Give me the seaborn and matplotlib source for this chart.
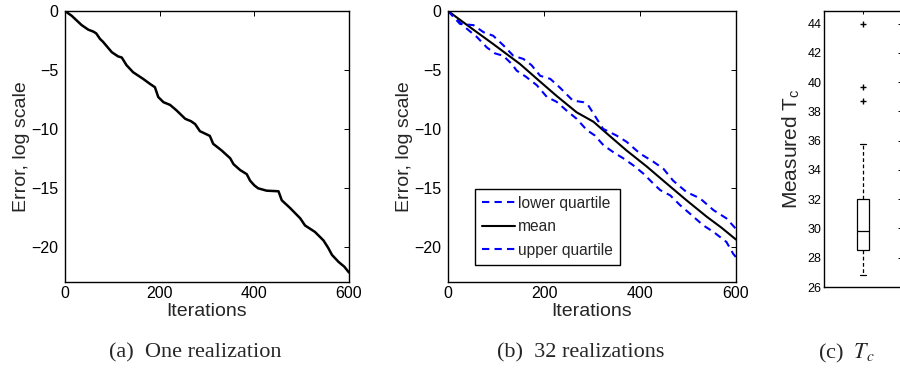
import matplotlib
matplotlib.use("Agg")
import matplotlib.pyplot as plt
import seaborn as sns

# ---------------- data ----------------
# (a) one realization
a_iter = [0, 14, 35, 49, 60, 66, 74, 80, 99, 112, 120, 130, 144, 165, 180, 190, 197,
          208, 222, 236, 254, 266, 275, 285, 306, 313, 331, 349, 356, 370, 384, 391,
          400, 408, 426, 451, 458, 475, 497, 507, 528, 546, 556, 564, 578, 590, 600]
a_err = [0, -0.4, -1.19, -1.58, -1.75, -1.9, -2.37, -2.6, -3.5, -3.85, -3.95, -4.6,
         -5.2, -5.76, -6.2, -6.47, -7.3, -7.74, -7.97, -8.45, -9.15, -9.35, -9.6,
         -10.2, -10.6, -11.27, -11.84, -12.5, -13.0, -13.5, -13.85, -14.4, -14.8,
         -15.05, -15.25, -15.3, -16.07, -16.7, -17.6, -18.2, -18.75, -19.47, -20.1,
         -20.7, -21.3, -21.7, -22.2]

# (b) 32 realizations
mean_iter = [0, 50, 94, 150, 192, 226, 268, 303, 331, 372, 414, 456, 497, 539, 570, 600]
mean_err = [0, -1.5, -2.8, -4.5, -6.0, -7.2, -8.6, -9.4, -10.4, -11.84, -13.2, -14.66,
            -16.07, -17.46, -18.4, -19.4]

lowq_iter = [0, 39, 60, 81, 98, 115, 133, 143, 163, 185, 206, 226, 247, 268, 289, 306,
             324, 345, 365, 386, 407, 428, 442, 463, 484, 504, 532, 553, 580, 594, 600]
lowq_err = [0, -1.5, -2.2, -3.1, -3.6, -3.8, -4.5, -5.06, -5.6, -6.3, -7.3, -7.7, -8.45,
            -9.15, -10.1, -10.57, -11.4, -12.0, -12.5, -13.1, -13.8, -14.66, -15.2,
            -15.65, -16.5, -17.2, -18.2, -18.75, -19.6, -20.6, -20.9]

upq_iter = [0, 25, 53, 74, 94, 115, 136, 157, 174, 192, 213, 233, 260, 282, 292, 303,
            323, 351, 372, 400, 428, 449, 469, 497, 525, 553, 580, 600]
upq_err = [0, -1.1, -1.2, -1.8, -2.1, -2.9, -3.8, -4.07, -4.6, -5.5, -5.76, -6.5, -7.6,
           -7.74, -8.0, -8.7, -10.0, -10.57, -11.1, -12.1, -12.8, -13.4, -14.4, -15.37,
           -15.9, -16.9, -17.6, -18.5]

# (c) measured Tc (sample consistent with the box plot statistics)
tc_values = [26.8, 27.4, 27.9, 28.2, 28.5, 28.9, 29.3, 29.6, 29.8, 30.4, 31.0, 31.6,
             32.0, 35.8, 38.7, 39.7, 44.0]

captions = ["(a)  One realization", "(b)  32 realizations", r"(c)  $T_c$"]

# ---------------- style ----------------
sns.set_style("white")
plt.rcParams["font.family"] = ["Liberation Sans", "DejaVu Sans"]
plt.rcParams["mathtext.fontset"] = "stix"
plt.rcParams["axes.linewidth"] = 1.0
plt.rcParams["axes.edgecolor"] = "black"

fig = plt.figure(figsize=(9, 3.69), dpi=100)

def style_axes(ax, tick_fs=11.5, pad=5):
    ax.tick_params(direction="in", top=True, right=True, length=3.5, width=0.7,
                   labelsize=tick_fs, colors="black", pad=pad)
    ax.tick_params(axis="x", pad=3)
    for s in ax.spines.values():
        s.set_visible(True)
        s.set_color("black")
        s.set_linewidth(1.0)

# ---- panel (a) ----
ax1 = fig.add_axes([0.0722, 0.2358, 0.3156, 0.7344])
sns.lineplot(x=a_iter, y=a_err, ax=ax1, color="black", linewidth=1.8)
ax1.set_xlim(0, 600)
ax1.set_ylim(-23, 0)
ax1.set_xticks([0, 200, 400, 600])
ax1.set_yticks([0, -5, -10, -15, -20])
style_axes(ax1)
ax1.set_xlabel("Iterations", fontsize=14, labelpad=1)
ax1.set_ylabel("Error, log scale", fontsize=14, labelpad=1)

# ---- panel (b) ----
ax2 = fig.add_axes([0.4978, 0.2358, 0.32, 0.7344])
sns.lineplot(x=lowq_iter, y=lowq_err, ax=ax2, color="blue", linewidth=1.5,
             label="lower quartile")
ax2.lines[-1].set_dashes((3.5, 2.5))
sns.lineplot(x=mean_iter, y=mean_err, ax=ax2, color="black", linewidth=1.5,
             label="mean")
sns.lineplot(x=upq_iter, y=upq_err, ax=ax2, color="blue", linewidth=1.5,
             label="upper quartile")
ax2.lines[-1].set_dashes((3.5, 2.5))
ax2.set_xlim(0, 600)
ax2.set_ylim(-23, 0)
ax2.set_xticks([0, 200, 400, 600])
ax2.set_yticks([0, -5, -10, -15, -20])
style_axes(ax2)
ax2.set_xlabel("Iterations", fontsize=14, labelpad=1)
ax2.set_ylabel("Error, log scale", fontsize=14, labelpad=1)
leg = ax2.legend(loc="lower left", bbox_to_anchor=(0.094, 0.063), fontsize=11.2,
                 frameon=True, fancybox=False, edgecolor="black", framealpha=1,
                 handlelength=2.1, handletextpad=0.2, borderpad=0.45,
                 labelspacing=0.55, borderaxespad=0)
leg.get_frame().set_linewidth(1.0)

# ---- panel (c) ----
ax3 = fig.add_axes([0.9156, 0.2222, 0.0856, 0.748])
sns.boxplot(y=tc_values, ax=ax3, width=0.156, color="white", linecolor="black",
            linewidth=0.9, fliersize=4,
            whiskerprops=dict(linestyle=(0, (3, 2))),
            flierprops=dict(marker="+", markeredgecolor="black", markersize=4,
                            markeredgewidth=1.0))
ax3.set_xlim(-0.5, 0.5)
ax3.set_ylim(26, 44.86)
ax3.set_yticks(list(range(26, 45, 2)))
ax3.set_xticks([0])
ax3.set_xticklabels([""])
ax3.set_xlabel("")
style_axes(ax3, tick_fs=9, pad=2)
ax3.tick_params(length=2.5)
ax3.set_ylabel(r"Measured T$_{\mathregular{c}}$", fontsize=15, labelpad=4)

# ---- captions ----
cap_font = ["Liberation Serif", "DejaVu Serif"]
fig.text(195 / 900, 1 - 353 / 369, captions[0], ha="center", va="center",
         fontsize=16, family=cap_font)
fig.text(581 / 900, 1 - 353 / 369, captions[1], ha="center", va="center",
         fontsize=16, family=cap_font)
fig.text(846 / 900, 1 - 353 / 369, captions[2], ha="center", va="center",
         fontsize=16, family=cap_font)

fig.savefig("out.png", dpi=100)
